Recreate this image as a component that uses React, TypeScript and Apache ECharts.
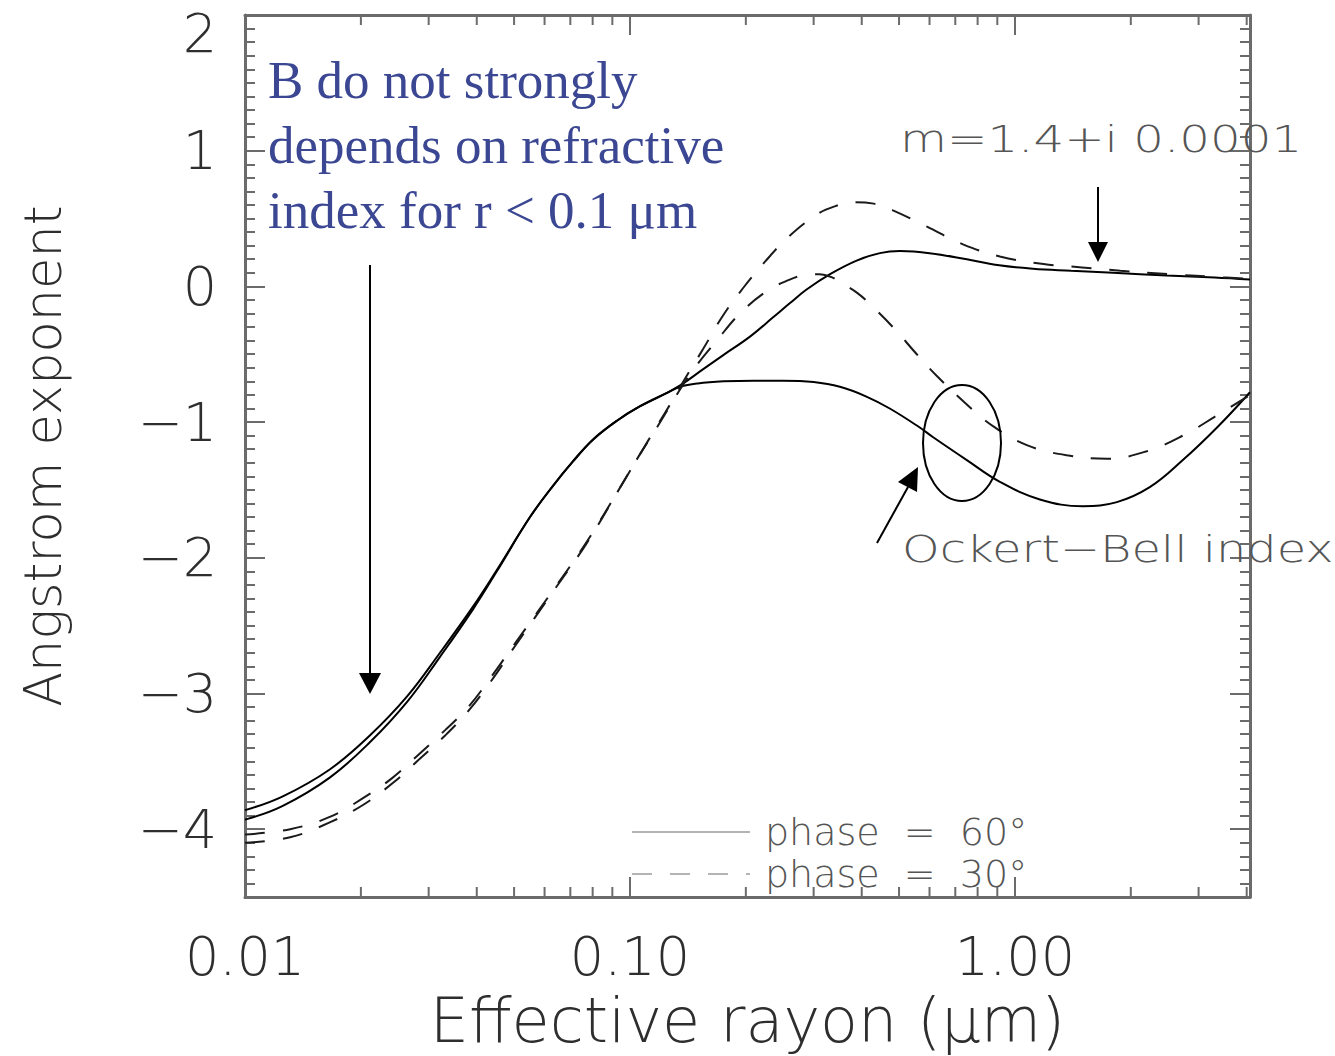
import React, { useEffect, useRef } from "react";
import * as echarts from "echarts";

// ---------- data (effective radius in µm, Angstrom exponent) ----------
const radiusSolidM14 = [0.01, 0.0125, 0.0166, 0.0211, 0.0264, 0.0321, 0.0391, 0.0451, 0.055, 0.0631, 0.0711, 0.0801, 0.0925, 0.106, 0.1248, 0.135, 0.155, 0.174, 0.205, 0.235, 0.26, 0.287, 0.331, 0.388, 0.446, 0.503, 0.6, 0.75, 0.91, 1.114, 1.4, 1.8, 2.48, 3.3, 4.08];
const angstromSolidM14 = [-3.86, -3.76, -3.56, -3.31, -3.02, -2.7, -2.36, -2.09, -1.7, -1.47, -1.29, -1.13, -0.99, -0.885, -0.785, -0.73, -0.61, -0.51, -0.37, -0.23, -0.125, -0.025, 0.09, 0.19, 0.245, 0.26, 0.245, 0.2, 0.155, 0.13, 0.115, 0.1, 0.08, 0.065, 0.05];

const radiusSolidOB = [0.01, 0.0125, 0.0166, 0.0211, 0.0264, 0.0321, 0.0391, 0.0451, 0.055, 0.0631, 0.0711, 0.0801, 0.0925, 0.106, 0.1248, 0.135, 0.15, 0.175, 0.21, 0.25, 0.3, 0.351, 0.41, 0.473, 0.566, 0.612, 0.75, 0.914, 1.161, 1.5, 1.84, 2.24, 2.73, 3.35, 4.08];
const angstromSolidOB = [-3.93, -3.83, -3.62, -3.36, -3.06, -2.73, -2.38, -2.1, -1.7, -1.47, -1.29, -1.13, -0.99, -0.885, -0.785, -0.74, -0.715, -0.7, -0.695, -0.695, -0.705, -0.74, -0.81, -0.9, -1.04, -1.11, -1.28, -1.44, -1.57, -1.62, -1.59, -1.48, -1.28, -1.04, -0.78];

const radiusDashM14 = [0.01, 0.0131, 0.0166, 0.0203, 0.0242, 0.0285, 0.0331, 0.038, 0.0433, 0.0503, 0.0631, 0.0773, 0.0953, 0.106, 0.1175, 0.129, 0.137, 0.155, 0.174, 0.197, 0.224, 0.257, 0.306, 0.34, 0.38, 0.43, 0.482, 0.591, 0.733, 0.914, 1.187, 1.493, 1.88, 2.5, 3.3, 4.08];
const angstromDashM14 = [-4.04, -4.0, -3.91, -3.77, -3.62, -3.44, -3.27, -3.1, -2.89, -2.63, -2.24, -1.88, -1.46, -1.24, -1.03, -0.84, -0.71, -0.46, -0.22, -0.01, 0.18, 0.36, 0.53, 0.59, 0.62, 0.61, 0.56, 0.44, 0.31, 0.22, 0.165, 0.14, 0.115, 0.09, 0.07, 0.055];

const radiusDashOB = [0.01, 0.0131, 0.0166, 0.0203, 0.0242, 0.0285, 0.0331, 0.038, 0.0433, 0.0503, 0.0631, 0.0773, 0.0953, 0.106, 0.1175, 0.129, 0.137, 0.15, 0.168, 0.193, 0.228, 0.26, 0.281, 0.31, 0.336, 0.357, 0.39, 0.42, 0.482, 0.556, 0.627, 0.75, 0.877, 1.074, 1.365, 1.735, 2.2, 2.73, 3.31, 4.08];
const angstromDashOB = [-4.1, -4.06, -3.95, -3.82, -3.66, -3.48, -3.31, -3.13, -2.92, -2.65, -2.25, -1.89, -1.46, -1.24, -1.04, -0.85, -0.73, -0.57, -0.4, -0.2, -0.03, 0.05, 0.08, 0.09, 0.065, 0.02, -0.05, -0.13, -0.3, -0.5, -0.66, -0.87, -1.03, -1.17, -1.245, -1.27, -1.215, -1.1, -0.96, -0.8];

const xTickValues = [0.01, 0.1, 1];
const xTickLabels = ["0.01", "0.10", "1.00"];
const xMinorTicks = [0.02, 0.03, 0.04, 0.05, 0.06, 0.07, 0.08, 0.09, 0.2, 0.3, 0.4, 0.5, 0.6, 0.7, 0.8, 0.9, 2, 3, 4];
const yTickValues = [-4, -3, -2, -1, 0, 1, 2];
const legendLabels = ["phase\u00a0\u00a0=\u00a0\u00a060°", "phase\u00a0\u00a0=\u00a0\u00a030°"];

const X_MIN = 0.01;
const X_MAX = 4.08;
const Y_MIN = -4.5;
const Y_MAX = 2;

const FONT = '"DejaVu Sans", sans-serif';
const AXIS_COLOR = "#6b6b6b";
const TEXT_COLOR = "#2e2e2e";
const NOTE_COLOR = "#555555";

const zip = (xs: number[], ys: number[]) => xs.map((x, i) => [x, ys[i]]);

const formatX = (v: number) => {
  const idx = xTickValues.findIndex((t) => Math.abs(Math.log10(v) - Math.log10(t)) < 1e-6);
  return idx >= 0 ? xTickLabels[idx] : "";
};

const formatY = (v: number) => {
  const r = Math.round(v);
  if (Math.abs(v - r) > 1e-9 || !yTickValues.includes(r)) return "";
  if (r === Y_MAX) return "{top|" + r + "}";
  return r < 0 ? "\u2212" + Math.abs(r) : String(r);
};

const tickLine = { lineStyle: { color: AXIS_COLOR, width: 2 } };
const frameLine = { show: true, onZero: false, lineStyle: { color: AXIS_COLOR, width: 3 } };

export default function App() {
  const ref = useRef<HTMLDivElement>(null);

  useEffect(() => {
    if (!ref.current) return;
    const chart = echarts.init(ref.current, null, { renderer: "svg" });

    const lineSeries = (name: string, data: number[][], dashed: boolean) => ({
      type: "line",
      name,
      data,
      smooth: 0.4,
      symbol: "none",
      showSymbol: false,
      xAxisIndex: 0,
      yAxisIndex: 0,
      itemStyle: { color: "#000000" },
      lineStyle: {
        color: dashed ? "#1a1a1a" : "#000000",
        width: 2,
        type: dashed ? [20, 18] : "solid",
      },
      z: 3,
    });

    const option: any = {
      animation: false,
      backgroundColor: "#ffffff",
      grid: { left: 245, right: 85, top: 15, bottom: 154, containLabel: false },
      legend: {
        data: legendLabels,
        orient: "vertical",
        left: 626,
        top: 807,
        padding: 5,
        itemWidth: 118,
        itemHeight: 20,
        itemGap: 2,
        selectedMode: false,
        itemStyle: { opacity: 0 },
        lineStyle: { color: "#b4b4b4", width: 2 },
        textStyle: {
          fontFamily: FONT,
          fontWeight: 200,
          fontSize: 38,
          color: "#555555",
          lineHeight: 24,
          padding: [0, 0, 16, 10],
        },
      },
      xAxis: [
        {
          type: "log",
          logBase: 10,
          min: X_MIN,
          max: X_MAX,
          position: "bottom",
          axisLine: frameLine,
          axisTick: { show: true, inside: true, length: 20, ...tickLine },
          splitLine: { show: false },
          axisLabel: {
            formatter: formatX,
            margin: 32,
            fontFamily: FONT,
            fontWeight: 200,
            fontSize: 54,
            color: TEXT_COLOR,
          },
          name: "Effective rayon (μm)",
          nameLocation: "middle",
          nameGap: 92,
          nameTextStyle: { fontFamily: FONT, fontWeight: 200, fontSize: 62, color: TEXT_COLOR },
        },
        {
          type: "log",
          logBase: 10,
          min: X_MIN,
          max: X_MAX,
          position: "top",
          axisLine: frameLine,
          axisTick: { show: true, inside: true, length: 20, ...tickLine },
          splitLine: { show: false },
          axisLabel: { show: false },
        },
      ],
      yAxis: [
        {
          type: "value",
          min: Y_MIN,
          max: Y_MAX,
          minInterval: 1,
          maxInterval: 1,
          position: "left",
          axisLine: frameLine,
          axisTick: { show: true, inside: true, length: 20, ...tickLine },
          splitLine: { show: false },
          axisLabel: {
            formatter: formatY,
            margin: 28,
            fontFamily: FONT,
            fontWeight: 200,
            fontSize: 54,
            color: TEXT_COLOR,
            rich: {
              top: { fontFamily: FONT, fontWeight: 200, fontSize: 54, color: TEXT_COLOR, padding: [37, 0, 0, 0] },
            },
          },
          name: "Angstrom exponent",
          nameLocation: "middle",
          nameRotate: 90,
          nameGap: 176,
          nameTextStyle: { fontFamily: FONT, fontWeight: 200, fontSize: 51, color: TEXT_COLOR },
        },
        {
          type: "value",
          min: Y_MIN,
          max: Y_MAX,
          interval: 0.1,
          position: "left",
          axisLine: { show: false, onZero: false },
          axisTick: { show: true, inside: true, length: 10, ...tickLine },
          splitLine: { show: false },
          axisLabel: { show: false },
        },
        {
          type: "value",
          min: Y_MIN,
          max: Y_MAX,
          minInterval: 1,
          maxInterval: 1,
          position: "right",
          axisLine: frameLine,
          axisTick: { show: true, inside: true, length: 20, ...tickLine },
          splitLine: { show: false },
          axisLabel: { show: false },
        },
        {
          type: "value",
          min: Y_MIN,
          max: Y_MAX,
          interval: 0.1,
          position: "right",
          axisLine: { show: false, onZero: false },
          axisTick: { show: true, inside: true, length: 10, ...tickLine },
          splitLine: { show: false },
          axisLabel: { show: false },
        },
      ],
      series: [
        lineSeries(legendLabels[0], zip(radiusSolidM14, angstromSolidM14), false),
        lineSeries(legendLabels[0], zip(radiusSolidOB, angstromSolidOB), false),
        lineSeries(legendLabels[1], zip(radiusDashM14, angstromDashM14), true),
        lineSeries(legendLabels[1], zip(radiusDashOB, angstromDashOB), true),
        {
          type: "custom",
          name: "minor ticks",
          xAxisIndex: 0,
          yAxisIndex: 0,
          silent: true,
          z: 2,
          data: xMinorTicks.map((v) => [v, Y_MIN]),
          renderItem: (params: any, api: any) => {
            const p = api.coord([api.value(0), api.value(1)]);
            const cs = params.coordSys;
            const top = cs.y;
            const bottom = cs.y + cs.height;
            return {
              type: "group",
              children: [
                { type: "line", shape: { x1: p[0], y1: bottom, x2: p[0], y2: bottom - 10 }, style: { stroke: AXIS_COLOR, lineWidth: 2 } },
                { type: "line", shape: { x1: p[0], y1: top, x2: p[0], y2: top + 10 }, style: { stroke: AXIS_COLOR, lineWidth: 2 } },
              ],
            };
          },
        },
      ],
      graphic: [
        {
          type: "text",
          x: 268,
          y: 47,
          style: {
            text: "B do not strongly\ndepends on refractive\nindex for r < 0.1 μm",
            fontFamily: '"Liberation Serif", "Times New Roman", serif',
            fontSize: 53,
            lineHeight: 65,
            fill: "#3b4792",
            align: "left",
            verticalAlign: "top",
          },
          z: 10,
        },
        { type: "line", shape: { x1: 370, y1: 265, x2: 370, y2: 676 }, style: { stroke: "#000", lineWidth: 2 }, z: 10 },
        { type: "polygon", shape: { points: [[359, 673], [381, 673], [370, 694]] }, style: { fill: "#000" }, z: 10 },
        {
          type: "text",
          x: 900,
          y: 139,
          scaleX: 1.27,
          style: {
            text: "m=1.4+i 0.0001",
            fontFamily: FONT,
            fontWeight: 200,
            fontSize: 38,
            fill: NOTE_COLOR,
            align: "left",
            verticalAlign: "middle",
          },
          z: 10,
        },
        { type: "line", shape: { x1: 1098, y1: 187, x2: 1098, y2: 244 }, style: { stroke: "#000", lineWidth: 2 }, z: 10 },
        { type: "polygon", shape: { points: [[1088, 242], [1108, 242], [1098, 262]] }, style: { fill: "#000" }, z: 10 },
        {
          type: "ellipse",
          shape: { cx: 962, cy: 443, rx: 39, ry: 58 },
          style: { fill: "none", stroke: "#000", lineWidth: 2 },
          z: 10,
        },
        { type: "line", shape: { x1: 877, y1: 543, x2: 908, y2: 487 }, style: { stroke: "#000", lineWidth: 2 }, z: 10 },
        { type: "polygon", shape: { points: [[918, 467], [917, 492], [898, 482]] }, style: { fill: "#000" }, z: 10 },
        {
          type: "text",
          x: 902,
          y: 549,
          scaleX: 1.26,
          style: {
            text: "Ockert\u2212Bell index",
            fontFamily: FONT,
            fontWeight: 200,
            fontSize: 38,
            fill: NOTE_COLOR,
            align: "left",
            verticalAlign: "middle",
          },
          z: 1,
        },
      ],
    };

    chart.setOption(option);
    return () => chart.dispose();
  }, []);

  return (
    <div
      ref={ref}
      style={{ position: "absolute", left: 0, top: 0, width: 1335, height: 1056, background: "#fff" }}
    />
  );
}
